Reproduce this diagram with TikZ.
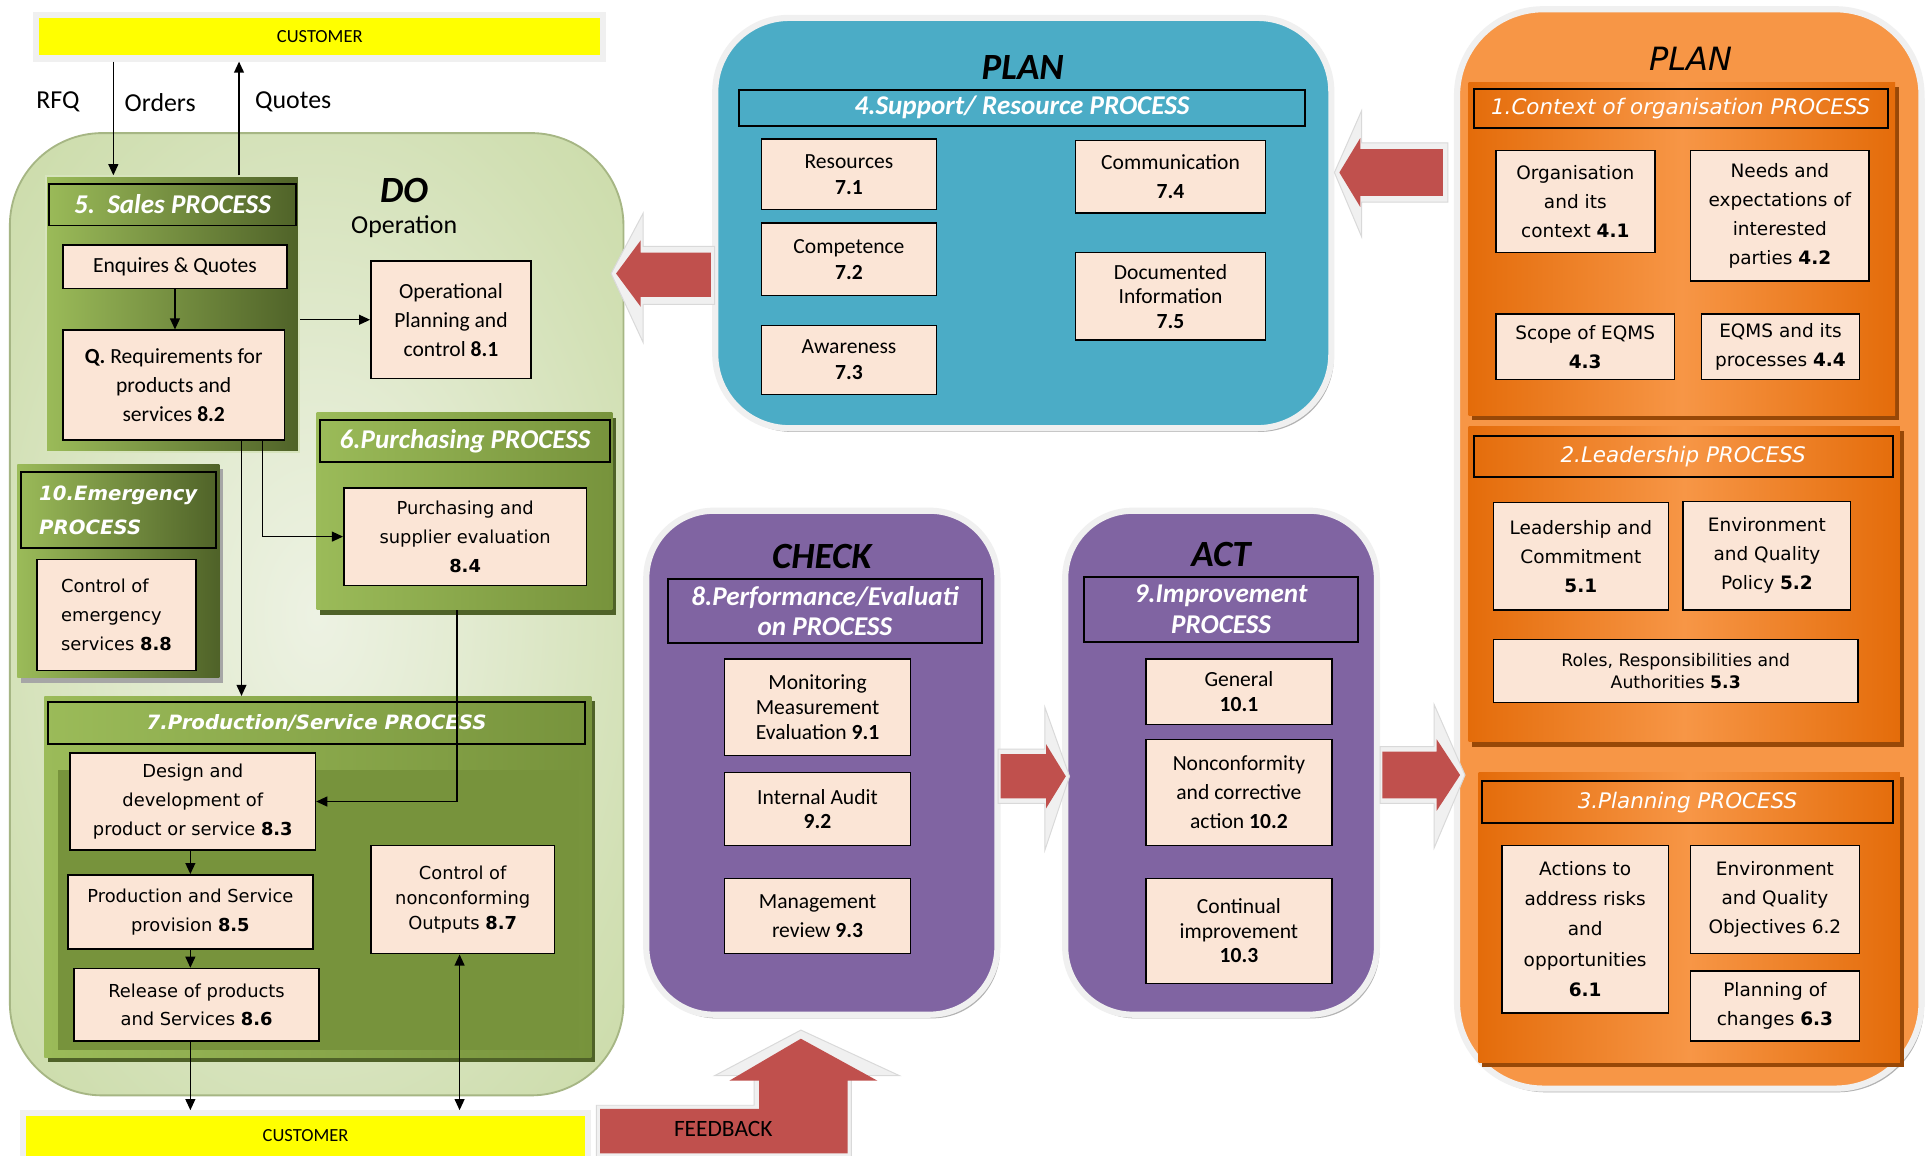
\documentclass[tikz,border=0pt]{standalone}
\usepackage{fontspec}
\setmainfont{Carlito}
\newfontfamily\verd{DejaVu Sans}
\usetikzlibrary{arrows.meta,shadows}

\definecolor{boxfill}{HTML}{FBE5D6}
\definecolor{custyellow}{HTML}{FFFF00}
\definecolor{bluep}{HTML}{4BACC6}
\definecolor{purp}{HTML}{8064A2}
\definecolor{orangep}{HTML}{F79646}
\definecolor{oranged}{HTML}{E46C0A}
\definecolor{orangesh}{HTML}{984807}
\definecolor{greenl}{HTML}{9BBB59}
\definecolor{greend}{HTML}{4F6228}
\definecolor{greenm}{HTML}{77933C}
\definecolor{greenbg}{HTML}{EDF2E3}
\definecolor{greenedge}{HTML}{C3D69B}
\definecolor{arrred}{HTML}{C0504D}
\definecolor{glow}{HTML}{F0F0F0}

\pgfdeclareradialshading{doshade}{\pgfpoint{0bp}{0bp}}{%
  color(0bp)=(greenbg); color(12bp)=(greenbg!75!greenedge); color(28bp)=(greenedge!65!greenbg); color(45bp)=(greenedge); color(72bp)=(greenedge)}

\begin{document}
\begin{tikzpicture}[x=1pt,y=-1pt,
  pbox/.style={draw=black, line width=1.2pt, fill=boxfill, align=center, inner sep=1pt},
  cbox/.style={pbox, font=\fontsize{17.5}{21}\selectfont},
  cwide/.style={font=\fontsize{17.5}{23.5}\selectfont},
  vbox/.style={pbox, font=\verd\fontsize{14.5}{23.5}\selectfont},
  obox/.style={pbox, font=\verd\fontsize{15}{23.5}\selectfont},
  hdr/.style={draw=black, line width=1.5pt, text=white, align=center, inner sep=0pt},
  chdr/.style={hdr, font=\fontsize{22}{25}\selectfont\bfseries\itshape},
  vhdr/.style={hdr, font=\verd\fontsize{16}{28}\selectfont\bfseries\itshape},
  ohdr/.style={hdr, font=\verd\fontsize{17.4}{20}\selectfont\itshape},
  bigpanel/.style={rounded corners=60pt, draw=glow, line width=5pt, inner sep=0pt,
    drop shadow={shadow xshift=2pt, shadow yshift=-3pt, fill=black!30, opacity=1}},
  phase/.style={font=\fontsize{30}{30}\selectfont\bfseries\itshape},
  lbl/.style={font=\fontsize{21}{21}\selectfont},
  arr/.style={-{Triangle[length=9pt,width=8pt]}, line width=1.2pt},
  arrb/.style={{Triangle[length=9pt,width=8pt]}-{Triangle[length=9pt,width=8pt]}, line width=1.2pt},
  redarrow/.style={fill=arrred},
  glowarrow/.style={fill=glow, draw=black!15, line width=0.8pt},
  cust/.style={fill=custyellow, draw=glow, line width=5pt, inner sep=0pt,
    drop shadow={shadow xshift=2pt, shadow yshift=-3pt, fill=brown!45, opacity=1},
    font=\fontsize{15}{15}\selectfont},
]
\useasboundingbox[fill=white] (0,0) rectangle (1568,938);

% DOの領域
\node[rounded corners=75pt, draw=greenedge!85!black, line width=1.5pt,
  shading=doshade, minimum width=498pt, minimum height=781pt]
  (dop) at (257,498.5) {};
\node[phase] (dolbl) at (328,155) {DO};
\node[lbl] (oplbl) at (328,184) {Operation};

% 顧客
\node[cust, minimum width=460pt, minimum height=35pt] (cust1) at (259.5,30) {CUSTOMER};
\node[cust, minimum width=458pt, minimum height=37pt] (cust2) at (248,922) {CUSTOMER};
\node[lbl] (rfqlbl) at (47,83) {RFQ};
\node[lbl] (ordlbl) at (130,83) {Orders};
\node[lbl] (quolbl) at (238,83) {Quotes};

% 5. Sales
\node[left color=greenl, right color=greend, draw=white!60!greenl, line width=1.5pt,
  minimum width=206pt, minimum height=224pt] (salesp) at (140,255) {};
\node[chdr, minimum width=200pt, minimum height=34pt] (salesh) at (140,166) {5.\ \ Sales PROCESS};
\node[cbox, minimum width=182pt, minimum height=35pt] (enq) at (142,216.5) {Enquires \& Quotes};
\node[cbox, cwide, minimum width=180pt, minimum height=89pt] (req) at (141,312.5)
  {\textbf{Q.} Requirements for\\products and\\services \textbf{8.2}};
\node[cbox, cwide, minimum width=130pt, minimum height=95pt] (opc) at (366,259.5)
  {Operational\\Planning and\\control \textbf{8.1}};

% 6. Purchasing
\node[left color=greenl, right color=greenm,
  drop shadow={shadow xshift=3pt, shadow yshift=-4pt, fill=greend, opacity=1},
  minimum width=240pt, minimum height=160pt] (purchp) at (377,415) {};
\node[chdr, minimum width=235pt, minimum height=34pt] (purchh) at (377.5,358) {6.Purchasing PROCESS};
\node[vbox, minimum width=197pt, minimum height=79pt] (purch) at (377.5,435.5)
  {Purchasing and\\supplier evaluation\\\textbf{8.4}};

% 10. Emergency
\node[left color=greenl, right color=greend,
  drop shadow={shadow xshift=3pt, shadow yshift=-4pt, fill=black!35, opacity=1},
  minimum width=164pt, minimum height=173pt] (emergp) at (96,463.5) {};
\node[vhdr, align=left, minimum width=158pt, minimum height=62pt] (emergh) at (96,414)
  {10.Emergency\\PROCESS};
\node[vbox, align=left, minimum width=129pt, minimum height=90pt] (emerg) at (94.5,499)
  {Control of\\emergency\\services \textbf{8.8}};

% 7. Production/Service
\node[left color=greenl, right color=greenm,
  drop shadow={shadow xshift=3pt, shadow yshift=-4pt, fill=greend, opacity=1},
  minimum width=444pt, minimum height=293pt] (prodp) at (258,711.5) {};
\fill[greenm] (47,625) rectangle (470,852);
\node[vhdr, minimum width=436pt, minimum height=34pt] (prodh) at (257,587) {7.Production/Service PROCESS};
\node[vbox, minimum width=199pt, minimum height=79pt] (design) at (156.5,650.5)
  {Design and\\development of\\product or service \textbf{8.3}};
\node[vbox, minimum width=199pt, minimum height=60pt] (prov) at (154.5,740)
  {Production and Service\\provision \textbf{8.5}};
\node[vbox, minimum width=199pt, minimum height=59pt] (release) at (159.5,815.5)
  {Release of products\\and Services \textbf{8.6}};
\node[vbox, font=\verd\fontsize{14.5}{20.5}\selectfont, minimum width=149pt, minimum height=88pt]
  (ncout) at (375.5,730) {Control of\\nonconforming\\Outputs \textbf{8.7}};

% 矢印(DO)
\coordinate (rfqx) at (92,0);
\coordinate (quox) at (194,0);
\coordinate (prodx) at (196,0);
\coordinate (purx) at (213,0);
\coordinate (desx) at (371,0);
\coordinate (ncx) at (373,0);
\draw[arr] (cust1.south -| rfqx) -- (salesp.north -| rfqx);
\draw[arr] (salesp.north -| quox) -- (cust1.south -| quox);
\draw[arr] (enq.south) -- (req.north -| enq.south);
\draw[arr] (salesp.east |- opc.west) -- (opc.west);
\draw[arr] (req.south -| purx) |- (purch.west);
\draw[arr] (req.south -| prodx) -- (prodp.north -| prodx);
\draw[arr] (purchp.south -| desx) |- (design.east);
\draw[arr] (design.south -| prov.north) -- (prov.north);
\draw[arr] (prov.south) -- (release.north -| prov.south);
\draw[arr] (release.south -| prov.south) -- (cust2.north -| prov.south);
\draw[arrb] (ncout.south -| ncx) -- (cust2.north -| ncx);

% PLAN (Support)
\node[bigpanel, fill=bluep, minimum width=500pt, minimum height=333pt] (supportp) at (830.5,181) {};
\node[phase] (planlbl) at (830,55) {PLAN};
\node[chdr, minimum width=459pt, minimum height=29pt] (supph) at (829.5,87.5) {4.Support/ Resource PROCESS};
\node[cbox, minimum width=142pt, minimum height=57pt] (res) at (689,141.5) {Resources\\\textbf{7.1}};
\node[cbox, minimum width=142pt, minimum height=59pt] (comp) at (689,210.5) {Competence\\\textbf{7.2}};
\node[cbox, minimum width=142pt, minimum height=56pt] (aware) at (689,292) {Awareness\\\textbf{7.3}};
\node[cbox, cwide, minimum width=154pt, minimum height=59pt] (comm) at (950,143.5) {Communication\\\textbf{7.4}};
\node[cbox, font=\fontsize{17.5}{20}\selectfont, minimum width=154pt, minimum height=71pt] (docinfo)
  at (950,240.5) {Documented\\Information\\\textbf{7.5}};

% CHECK
\node[bigpanel, rounded corners=55pt, fill=purp, minimum width=285pt, minimum height=409pt] (checkp) at (667,619) {};
\node[phase] (checklbl) at (667,452) {CHECK};
\node[chdr, minimum width=255pt, minimum height=52pt] (checkh) at (669.5,496) {8.Performance/Evaluati\\on PROCESS};
\node[cbox, font=\fontsize{17.5}{20}\selectfont, minimum width=151pt, minimum height=78pt] (mon) at (663.5,574)
  {Monitoring\\Measurement\\Evaluation \textbf{9.1}};
\node[cbox, font=\fontsize{17.5}{20}\selectfont, minimum width=151pt, minimum height=59pt] (audit) at (663.5,656.5)
  {Internal Audit\\\textbf{9.2}};
\node[cbox, cwide, minimum width=151pt, minimum height=61pt] (mgmt) at (663.5,743.5) {Management\\review \textbf{9.3}};

% ACT
\node[bigpanel, rounded corners=55pt, fill=purp, minimum width=253pt, minimum height=409pt] (actp) at (991,619) {};
\node[phase] (actlbl) at (991,450) {ACT};
\node[chdr, minimum width=222pt, minimum height=53pt] (acth) at (991,494.5) {9.Improvement\\PROCESS};
\node[cbox, font=\fontsize{17.5}{20}\selectfont, minimum width=151pt, minimum height=53pt] (gen) at (1005.5,561.5)
  {General\\\textbf{10.1}};
\node[cbox, cwide, minimum width=151pt, minimum height=86pt] (nc) at (1005.5,643)
  {Nonconformity\\and corrective\\action \textbf{10.2}};
\node[cbox, font=\fontsize{17.5}{20}\selectfont, minimum width=151pt, minimum height=85pt] (ci) at (1005.5,755.5)
  {Continual\\improvement\\\textbf{10.3}};

% PLAN (オレンジ)
\node[bigpanel, rounded corners=70pt, fill=orangep, minimum width=377pt, minimum height=876pt] (orgp) at (1371,445.5) {};
\node[font=\verd\fontsize{26}{26}\selectfont\itshape] (plan2lbl) at (1372,48) {PLAN};

\node[left color=oranged, right color=oranged, middle color=orangep,
  drop shadow={shadow xshift=3pt, shadow yshift=-4pt, fill=orangesh, opacity=1},
  minimum width=346pt, minimum height=270pt] (ctxp) at (1365,202) {};
\node[ohdr, minimum width=336pt, minimum height=32pt] (ctxh) at (1364,88) {1.Context of organisation PROCESS};
\node[obox, minimum width=129pt, minimum height=83pt] (org) at (1278.5,163.5) {Organisation\\and its\\context \textbf{4.1}};
\node[obox, minimum width=145pt, minimum height=106pt] (needs) at (1444.5,175)
  {Needs and\\expectations of\\interested\\parties \textbf{4.2}};
\node[obox, minimum width=145pt, minimum height=53pt] (scope) at (1286.5,281.5) {Scope of EQMS\\\textbf{4.3}};
\node[obox, minimum width=128pt, minimum height=53pt] (eqms) at (1445,281.5) {EQMS and its\\processes \textbf{4.4}};

\node[left color=oranged, right color=oranged, middle color=orangep,
  drop shadow={shadow xshift=3pt, shadow yshift=-4pt, fill=orangesh, opacity=1},
  minimum width=350pt, minimum height=256pt] (leadp) at (1367,474) {};
\node[ohdr, minimum width=340pt, minimum height=33pt] (leadh) at (1366,370.5) {2.Leadership PROCESS};
\node[obox, minimum width=142pt, minimum height=87pt] (lead) at (1283,451.5) {Leadership and\\Commitment\\\textbf{5.1}};
\node[obox, minimum width=136pt, minimum height=88pt] (policy) at (1434,451) {Environment\\and Quality\\Policy \textbf{5.2}};
\node[obox, font=\verd\fontsize{14}{18}\selectfont, minimum width=296pt, minimum height=51pt] (roles) at (1360,544.5)
  {Roles, Responsibilities and\\Authorities \textbf{5.3}};

\node[left color=oranged, right color=oranged, middle color=orangep,
  drop shadow={shadow xshift=3pt, shadow yshift=-4pt, fill=orangesh, opacity=1},
  minimum width=342pt, minimum height=235pt] (planp) at (1371,744.5) {};
\node[ohdr, minimum width=333pt, minimum height=34pt] (planh) at (1369.5,651) {3.Planning PROCESS};
\node[obox, font=\verd\fontsize{15}{24.5}\selectfont, minimum width=135pt, minimum height=136pt] (actions) at (1286.5,754)
  {Actions to\\address risks\\and\\opportunities\\\textbf{6.1}};
\node[obox, minimum width=137pt, minimum height=88pt] (obj) at (1440.5,730) {Environment\\and Quality\\Objectives 6.2};
\node[obox, minimum width=137pt, minimum height=57pt] (changes) at (1440.5,816.5) {Planning of\\changes \textbf{6.3}};

% 赤い矢印
\filldraw[glowarrow] (580,200) -- (522,200) -- (522,173) -- (496,222) -- (522,278) -- (522,247) -- (580,247) -- cycle;
\fill[redarrow] (577,205) -- (520,205) -- (520,195) -- (500,222) -- (520,249) -- (520,241) -- (577,241) -- cycle;
\filldraw[glowarrow] (1175,116) -- (1105,116) -- (1105,90) -- (1083,140) -- (1105,192) -- (1105,164) -- (1175,164) -- cycle;
\fill[redarrow] (1171,121) -- (1104,121) -- (1104,112) -- (1087,140) -- (1104,168) -- (1104,159) -- (1171,159) -- cycle;
\filldraw[glowarrow] (810,608) -- (848,608) -- (848,574) -- (868,630) -- (848,690) -- (848,652) -- (810,652) -- cycle;
\fill[redarrow] (812,612) -- (849,612) -- (849,604) -- (865,630) -- (849,656) -- (849,648) -- (812,648) -- cycle;
\filldraw[glowarrow] (1120,606) -- (1164,606) -- (1164,572) -- (1189,629) -- (1164,688) -- (1164,652) -- (1120,652) -- cycle;
\fill[redarrow] (1122,610) -- (1166,610) -- (1166,600) -- (1185,629) -- (1166,658) -- (1166,648) -- (1122,648) -- cycle;
\filldraw[glowarrow] (484,897) -- (612,897) -- (612,873) -- (580,873) -- (650,836) -- (730,873) -- (691,873) -- (691,939) -- (484,939) -- cycle;
\fill[redarrow] (487,900) -- (616,900) -- (616,877) -- (592,877) -- (650,843) -- (712,877) -- (688,877) -- (688,936) -- (487,936) -- cycle;
\node[font=\fontsize{19}{19}\selectfont] (fb) at (587,916) {FEEDBACK};
\end{tikzpicture}
\end{document}
